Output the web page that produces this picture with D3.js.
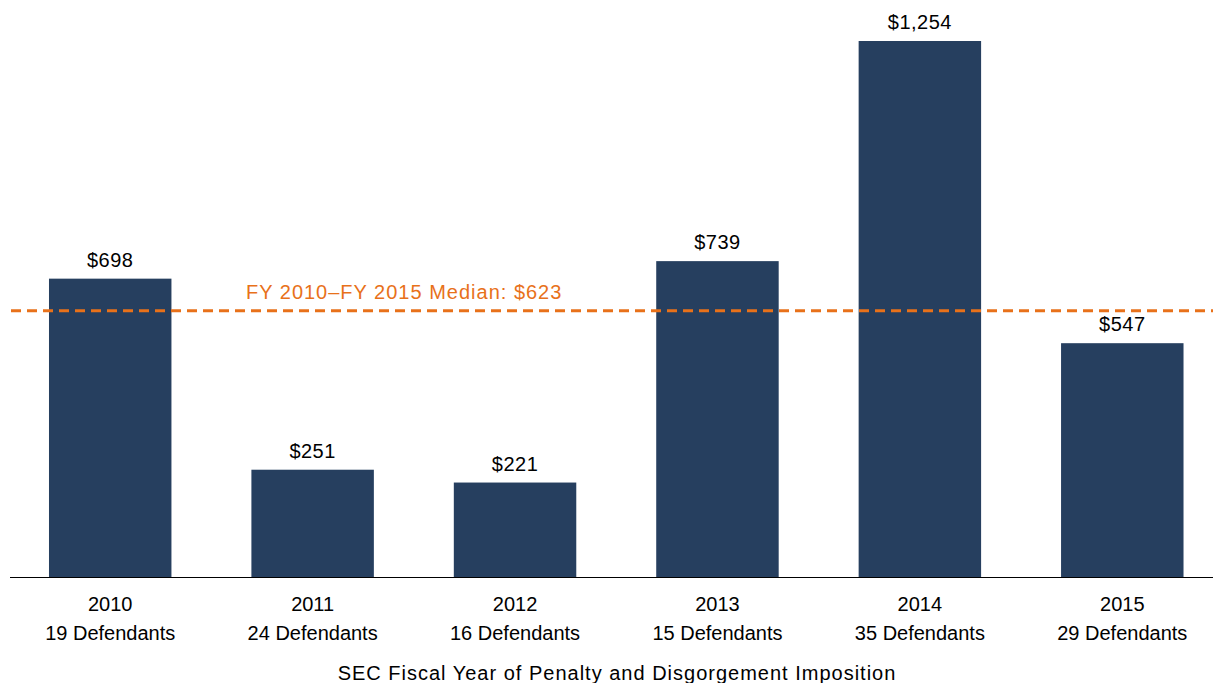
<!DOCTYPE html>
<html lang="en">
<head>
  <meta charset="UTF-8">
  <title>SEC Penalty and Disgorgement</title>
  <script src="https://d3js.org/d3.v7.min.js"></script>
  <style>
    body { margin: 0; background: #fff; }
    text { font-family: "Liberation Sans", Arial, sans-serif; fill: #000; font-size: 20px; }
  </style>
</head>
<body>
<div class="canvas"></div>
<script>
  // data (values in $ millions)
  const years = ["2010", "2011", "2012", "2013", "2014", "2015"];
  const defendants = ["19 Defendants", "24 Defendants", "16 Defendants", "15 Defendants", "35 Defendants", "29 Defendants"];
  const amounts = [698, 251, 221, 739, 1254, 547];
  const median = 623;
  const medianLabel = "FY 2010\u2013FY 2015 Median: $623";
  const xTitle = "SEC Fiscal Year of Penalty and Disgorgement Imposition";

  const width = 1213, height = 683;
  const baseY = 577;

  const svg = d3.select('.canvas')
    .append('svg')
    .attr('width', width)
    .attr('height', height)

  const x = d3.scaleBand()
    .domain(years)
    .range([8.5, 1224])
    .paddingInner(0.395)
    .paddingOuter(0.2)

  const y = d3.scaleLinear()
    .domain([0, 1254])
    .range([baseY, 41])

  // bars
  svg.selectAll('rect.bar')
    .data(amounts)
    .enter()
    .append('rect')
    .attr('class', 'bar')
    .attr('x', (d, i) => x(years[i]))
    .attr('y', d => y(d))
    .attr('width', x.bandwidth())
    .attr('height', d => baseY - y(d))
    .attr('fill', '#263f5f')

  // value labels
  svg.selectAll('text.val')
    .data(amounts)
    .enter()
    .append('text')
    .attr('class', 'val')
    .attr('x', (d, i) => x(years[i]) + x.bandwidth() / 2)
    .attr('y', d => y(d) - 12)
    .attr('text-anchor', 'middle')
    .style('letter-spacing', '0.5px')
    .text(d => '$' + d3.format(',')(d))

  // baseline
  svg.append('line')
    .attr('x1', 10).attr('x2', width)
    .attr('y1', baseY + 0.5).attr('y2', baseY + 0.5)
    .attr('stroke', '#000')
    .attr('stroke-width', 1)

  // median line
  svg.append('line')
    .attr('x1', 11).attr('x2', width)
    .attr('y1', y(median)).attr('y2', y(median))
    .attr('stroke', '#e8711a')
    .attr('stroke-width', 3)
    .attr('stroke-dasharray', '10,6')

  svg.append('text')
    .attr('x', 246)
    .attr('y', y(median) - 12)
    .style('fill', '#e8711a')
    .style('letter-spacing', '1px')
    .text(medianLabel)

  // category labels
  const cat = svg.selectAll('g.cat')
    .data(years)
    .enter()
    .append('g')
    .attr('class', 'cat')
    .attr('transform', d => `translate(${x(d) + x.bandwidth() / 2}, 0)`)

  cat.append('text')
    .attr('y', 611)
    .attr('text-anchor', 'middle')
    .text(d => d)

  cat.append('text')
    .attr('y', 640)
    .attr('text-anchor', 'middle')
    .text((d, i) => defendants[i])

  svg.append('text')
    .attr('x', 617)
    .attr('y', 680)
    .attr('text-anchor', 'middle')
    .style('letter-spacing', '1px')
    .text(xTitle)
</script>
</body>
</html>
